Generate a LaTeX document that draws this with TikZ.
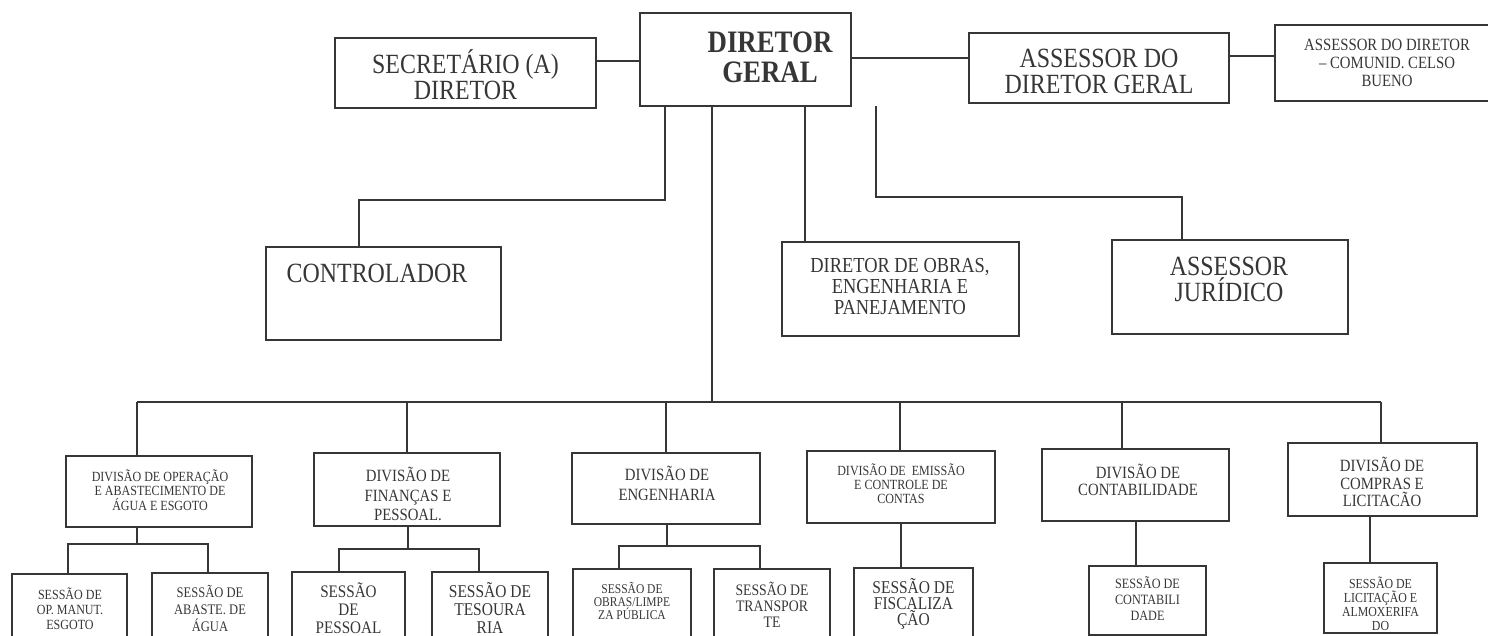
\documentclass[tikz,border=0pt]{standalone}
\usepackage{fontspec}
\setmainfont{Liberation Serif}[FakeStretch=0.86]
\usetikzlibrary{calc}
\definecolor{ink}{HTML}{363636}
\newcommand\bx[5]{\node[box, minimum width={(#4-#2)*0.5pt}, minimum height={(#5-#3)*0.5pt}] (#1) at ({(#2+#4)/2},{(#3+#5)/2}) {};}
\newcommand\tx[5]{\node[txt,#4] (#1) at (#2,#3) {#5};}
\begin{document}
\begin{tikzpicture}[x=0.5pt,y=-0.5pt,
  box/.style={draw=ink, line width=1pt, rectangle, inner sep=0pt, outer sep=0pt},
  txt/.style={text=ink, align=center, inner sep=0pt},
  fs/.style args={#1/#2}{font=\fontsize{#1}{#2}\selectfont},
  ln/.style={draw=ink, line width=1pt}]
\useasboundingbox (0,0) rectangle (1488,636);
\clip (0,0) rectangle (1488,636);
% ---------- boxes ----------
\bx{SEC}{335}{38}{596}{108}
\bx{DG}{640}{13}{851}{106}
\bx{ADG}{969}{33}{1229}{103}
\bx{ACB}{1275}{25}{1500}{101}
\bx{CTRL}{266}{247}{501}{340}
\bx{OBR}{782}{242}{1019}{336}
\bx{JUR}{1112}{240}{1348}{334}
\bx{D1}{66}{456}{252}{527}
\bx{D2}{314}{453}{500}{526}
\bx{D3}{572}{453}{760}{524}
\bx{D4}{807}{451}{995}{523}
\bx{D5}{1042}{449}{1229}{521}
\bx{D6}{1288}{443}{1477}{516}
\bx{SES1}{12}{574}{127}{660}
\bx{SES2}{152}{573}{268}{660}
\bx{SES3}{292}{572}{405}{660}
\bx{SES4}{432}{572}{548}{660}
\bx{SES5}{573}{569}{691}{660}
\bx{SES6}{714}{569}{830}{660}
\bx{SES7}{854}{568}{973}{660}
\bx{SES8}{1089}{566}{1206}{635}
\bx{SES9}{1324}{563}{1437}{633}
% ---------- texts ----------
\tx{SECt}{465.5}{75}{fs=13.9/13}{SECRETÁRIO (A)\\DIRETOR}
\tx{DGt}{770}{57}{font=\fontsize{15.6}{15}\selectfont\bfseries}{DIRETOR\\GERAL}
\tx{ADGt}{1099}{71}{fs=13.9/13}{ASSESSOR DO\\DIRETOR GERAL}
\tx{ACBt}{1387}{63}{fs=8.6/9}{ASSESSOR DO DIRETOR\\– COMUNID. CELSO\\BUENO}
\tx{CTRLt}{377}{273}{fs=13.9/13}{CONTROLADOR}
\tx{OBRt}{900}{287}{fs=10.7/10.5}{DIRETOR DE OBRAS,\\ENGENHARIA E\\PANEJAMENTO}
\tx{JURt}{1229}{279}{fs=13.9/13}{ASSESSOR\\JURÍDICO}
\tx{D1t}{160}{490}{fs=7/7.3}{DIVISÃO DE OPERAÇÃO\\E ABASTECIMENTO DE\\ÁGUA E ESGOTO}
\tx{D2t}{408}{494}{fs=8.6/9.8}{DIVISÃO DE\\FINANÇAS E\\PESSOAL.}
\tx{D3t}{667}{483}{fs=8.6/10}{DIVISÃO DE\\ENGENHARIA}
\tx{D4t}{901}{484}{fs=7/7}{DIVISÃO DE \ EMISSÃO\\E CONTROLE DE\\CONTAS}
\tx{D5t}{1138}{480}{fs=8.6/8.5}{DIVISÃO DE\\CONTABILIDADE}
\tx{D6t}{1382}{482}{fs=8.6/8.7}{DIVISÃO DE\\COMPRAS E\\LICITACÃO}
\tx{SES1t}{70}{609}{fs=7/7.6}{SESSÃO DE\\OP. MANUT.\\ESGOTO}
\tx{SES2t}{210}{608}{fs=7.3/8.5}{SESSÃO DE\\ABASTE. DE\\ÁGUA}
\tx{SES3t}{348.5}{608}{fs=8.8/9}{SESSÃO\\DE\\PESSOAL}
\tx{SES4t}{490}{608}{fs=9/9}{SESSÃO DE\\TESOURA\\RIA}
\tx{SES5t}{632}{601}{fs=6.7/6.5}{SESSÃO DE\\OBRAS/LIMPE\\ZA PÚBLICA}
\tx{SES6t}{772}{605}{fs=8/8}{SESSÃO DE\\TRANSPOR\\TE}
\tx{SES7t}{913.5}{604}{fs=9/8}{SESSÃO DE\\FISCALIZA\\ÇÃO}
\tx{SES8t}{1147.5}{599}{fs=7.1/8}{SESSÃO DE\\CONTABILI\\DADE}
\tx{SES9t}{1380.5}{604}{fs=6.9/7}{SESSÃO DE\\LICITAÇÃO E\\ALMOXERIFA\\DO}
% ---------- connectors ----------
\draw[ln] (SEC.east |- 0,61) -- (DG.west |- 0,61);
\draw[ln] (DG.east |- 0,58) -- (ADG.west |- 0,58);
\draw[ln] (ADG.east |- 0,56) -- (ACB.west |- 0,56);
\coordinate (bus) at (712,402);
\coordinate (busL) at (137,402);
\coordinate (busR) at (1381,402);
\draw[ln] (DG.south -| 665,0) -- (665,200) -| (CTRL.north -| 359,0);
\draw[ln] (DG.south -| bus) -- (bus);
\draw[ln] (DG.south -| 805,0) -- (OBR.north -| 805,0);
\draw[ln] (DG.south -| 876,0) -- (876,197) -| (JUR.north -| 1182,0);
\draw[ln] (busL) -- (busR);
\draw[ln] (busL) -- (D1.north -| busL);
\draw[ln] (bus -| 407,0) -- (D2.north -| 407,0);
\draw[ln] (bus -| 666,0) -- (D3.north -| 666,0);
\draw[ln] (bus -| 900,0) -- (D4.north -| 900,0);
\draw[ln] (bus -| 1122,0) -- (D5.north -| 1122,0);
\draw[ln] (busR) -- (D6.north -| busR);
\draw[ln] (D1.south -| 137,0) -- (137,544);
\draw[ln] (SES1.north -| 68,0) -- (68,544) -- (208,544) -- (SES2.north -| 208,0);
\draw[ln] (D2.south -| 408,0) -- (408,549);
\draw[ln] (SES3.north -| 339,0) -- (339,549) -- (479,549) -- (SES4.north -| 479,0);
\draw[ln] (D3.south -| 667,0) -- (667,546);
\draw[ln] (SES5.north -| 619,0) -- (619,546) -- (760,546) -- (SES6.north -| 760,0);
\draw[ln] (D4.south -| 901,0) -- (SES7.north -| 901,0);
\draw[ln] (D5.south -| 1136,0) -- (SES8.north -| 1136,0);
\draw[ln] (D6.south -| 1370,0) -- (SES9.north -| 1370,0);
\end{tikzpicture}
\end{document}
